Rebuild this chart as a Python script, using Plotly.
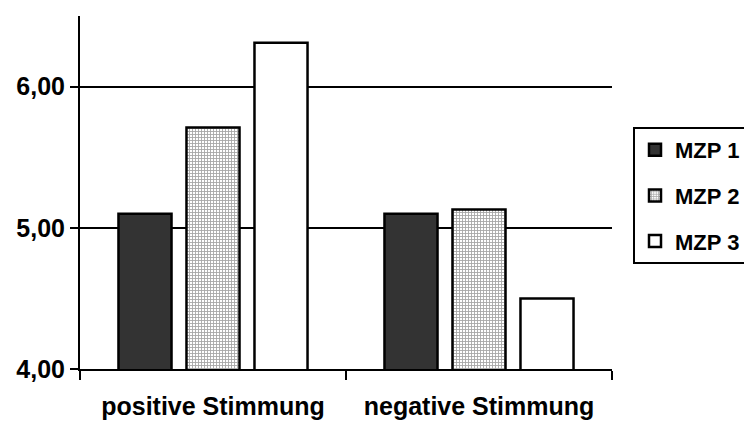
import plotly.graph_objects as go

categories = ["positive Stimmung", "negative Stimmung"]
series_names = ["MZP 1", "MZP 2", "MZP 3"]
mzp1 = [5.10, 5.10]
mzp2 = [5.71, 5.13]
mzp3 = [6.31, 4.50]
y_ticks = [4, 5, 6]
y_tick_labels = ["4,00", "5,00", "6,00"]

FAMILY = "Liberation Sans, Arial, sans-serif"
FONT = dict(family=FAMILY, size=25, color="black", weight="bold")

fig = go.Figure()
fig.add_trace(go.Bar(
    name=series_names[0], x=categories, y=mzp1, legendgroup="g1",
    marker=dict(color="#333333", line=dict(color="black", width=2.5)),
))
fig.add_trace(go.Bar(
    name=series_names[1], x=categories, y=mzp2, legendgroup="g2",
    marker=dict(color="white", line=dict(color="black", width=2.5),
                pattern=dict(shape="+", size=3, solidity=0.5, fgcolor="#4d4d4d", bgcolor="white")),
))
fig.add_trace(go.Bar(
    name=series_names[2], x=categories, y=mzp3, legendgroup="g3",
    marker=dict(color="white", line=dict(color="black", width=2.5)),
))

fig.update_layout(
    width=744, height=432,
    margin=dict(l=80, r=132, t=16, b=57),
    paper_bgcolor="white", plot_bgcolor="white",
    barmode="group", bargap=0.233, bargroupgap=0.22,
    font=FONT,
    showlegend=True,
    legend=dict(
        xref="container", yref="container", x=633 / 744, y=1 - 127 / 432,
        xanchor="left", yanchor="top",
        bordercolor="black", borderwidth=2, bgcolor="white",
        font=dict(family=FAMILY, size=22, color="black", weight="bold"),
        tracegroupgap=14, itemwidth=30,
    ),
)
fig.update_xaxes(
    showline=True, linecolor="black", linewidth=2,
    ticks="outside", tickson="boundaries", ticklen=9, tickwidth=2, tickcolor="black",
    showgrid=False, ticklabelstandoff=14,
    tickfont=FONT,
)
fig.update_yaxes(
    range=[4, 6.5], tickvals=y_ticks, ticktext=y_tick_labels,
    showline=True, linecolor="black", linewidth=2,
    ticks="outside", ticklen=8, tickwidth=2, tickcolor="black",
    showgrid=True, gridcolor="black", gridwidth=2, zeroline=False,
    tickfont=FONT,
)

fig.write_html("out.html")
